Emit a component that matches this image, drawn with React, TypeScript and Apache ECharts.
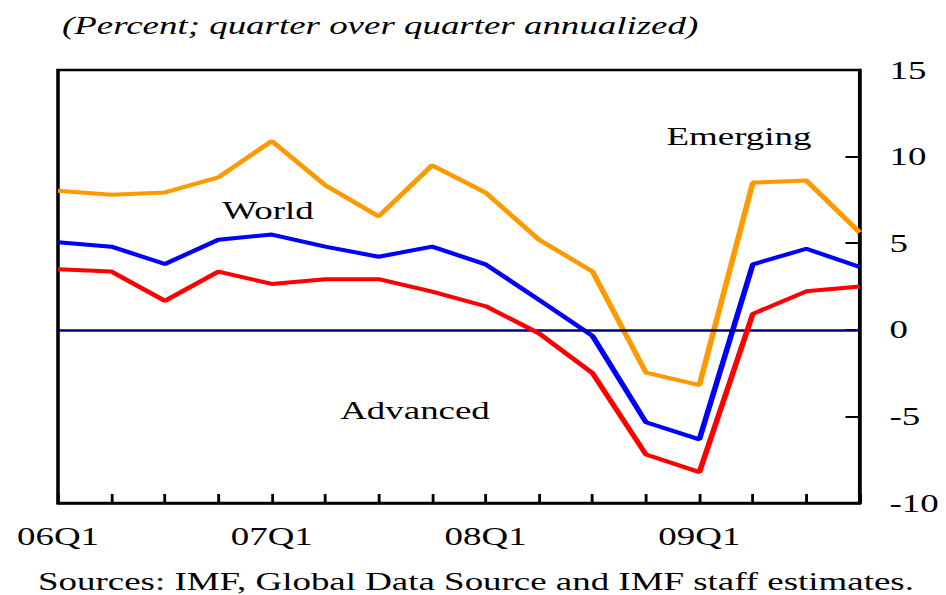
import React, { useEffect, useRef } from "react";
import * as echarts from "echarts";

// ---- Data ----
const quarters = [
  "06Q1", "06Q2", "06Q3", "06Q4",
  "07Q1", "07Q2", "07Q3", "07Q4",
  "08Q1", "08Q2", "08Q3", "08Q4",
  "09Q1", "09Q2", "09Q3", "09Q4",
];
const emerging = [8.03, 7.8, 7.93, 8.8, 10.9, 8.35, 6.55, 9.5, 7.92, 5.2, 3.37, -2.47, -3.2, 8.5, 8.62, 5.62];
const world = [5.05, 4.8, 3.8, 5.2, 5.5, 4.8, 4.22, 4.8, 3.78, 1.73, -0.35, -5.34, -6.33, 3.78, 4.68, 3.63];
const advanced = [3.49, 3.36, 1.67, 3.36, 2.65, 2.92, 2.92, 2.2, 1.36, -0.2, -2.5, -7.2, -8.22, 0.92, 2.22, 2.5];
const yMin = -10;
const yMax = 15;
const yStep = 5;

const titleText = "(Percent; quarter over quarter annualized)";
const sourceText = "Sources: IMF, Global Data Source and IMF staff estimates.";
const seriesNames = ["Emerging", "World", "Advanced"];

// ---- Layout (chart drawn narrower, then stretched horizontally like the reference) ----
const FULL_W = 946;
const FULL_H = 595;
const SX = 1.42;
const W = FULL_W / SX;
const FONT = "'Liberation Serif', 'Times New Roman', serif";

export default function App() {
  const ref = useRef<HTMLDivElement>(null);

  useEffect(() => {
    if (!ref.current) return;
    const chart = echarts.init(ref.current, null, { renderer: "svg" });
    const ux = (x: number) => x / SX;
    chart.setOption({
      animation: false,
      backgroundColor: "#ffffff",
      textStyle: { fontFamily: FONT },
      grid: {
        left: ux(58),
        right: W - ux(860),
        top: 70,
        bottom: FULL_H - 503,
        show: true,
        borderColor: "#000",
        borderWidth: 2.5,
        backgroundColor: "transparent",
      },
      xAxis: {
        type: "category",
        data: quarters,
        boundaryGap: false,
        axisLine: { show: true, onZero: false, lineStyle: { color: "#000", width: 2.5 } },
        axisTick: { show: true, inside: true, length: 9, interval: 0, lineStyle: { color: "#000", width: 2 } },
        axisLabel: {
          interval: 3,
          margin: 20,
          fontSize: 26,
          fontFamily: FONT,
          color: "#000",
        },
        splitLine: { show: false },
      },
      yAxis: {
        type: "value",
        position: "right",
        min: yMin,
        max: yMax,
        interval: yStep,
        axisLine: { show: true, lineStyle: { color: "#000", width: 2.5 } },
        axisTick: { show: true, inside: true, length: 10, lineStyle: { color: "#000", width: 2 } },
        axisLabel: {
          margin: 21,
          fontSize: 26,
          fontFamily: FONT,
          color: "#000",
        },
        splitLine: { show: false },
      },
      series: [
        {
          name: seriesNames[0],
          type: "line",
          data: emerging,
          symbol: "none",
          lineStyle: { color: "#FF9900", width: 4 },
          z: 3,
          markLine: {
            silent: true,
            symbol: "none",
            label: { show: false },
            lineStyle: { color: "#000080", width: 2.5, type: "solid" },
            data: [{ yAxis: 0 }],
          },
        },
        {
          name: seriesNames[1],
          type: "line",
          data: world,
          symbol: "none",
          lineStyle: { color: "#0000FF", width: 4 },
          z: 4,
        },
        {
          name: seriesNames[2],
          type: "line",
          data: advanced,
          symbol: "none",
          lineStyle: { color: "#FF0000", width: 4 },
          z: 5,
        },
      ],
      graphic: [
        {
          type: "text",
          left: ux(62),
          top: 12,
          style: { text: titleText, fontFamily: FONT, fontSize: 26, fontStyle: "italic", fill: "#000" },
        },
        {
          type: "text",
          x: ux(476),
          y: 581,
          style: {
            text: sourceText, fontFamily: FONT, fontSize: 26, fill: "#000",
            align: "center", verticalAlign: "middle",
          },
        },
        {
          type: "text",
          x: ux(739),
          y: 136,
          style: { text: seriesNames[0], fontFamily: FONT, fontSize: 26, fill: "#000", align: "center", verticalAlign: "middle" },
        },
        {
          type: "text",
          x: ux(268),
          y: 210,
          style: { text: seriesNames[1], fontFamily: FONT, fontSize: 26, fill: "#000", align: "center", verticalAlign: "middle" },
        },
        {
          type: "text",
          x: ux(415),
          y: 410,
          style: { text: seriesNames[2], fontFamily: FONT, fontSize: 26, fill: "#000", align: "center", verticalAlign: "middle" },
        },
      ],
    });
    return () => {
      chart.dispose();
    };
  }, []);

  return (
    <div
      style={{
        position: "absolute",
        left: 0,
        top: 0,
        width: FULL_W,
        height: FULL_H,
        overflow: "hidden",
        background: "#fff",
      }}
    >
      <div
        ref={ref}
        style={{
          width: W,
          height: FULL_H,
          transform: `scaleX(${SX})`,
          transformOrigin: "0 0",
        }}
      />
    </div>
  );
}
